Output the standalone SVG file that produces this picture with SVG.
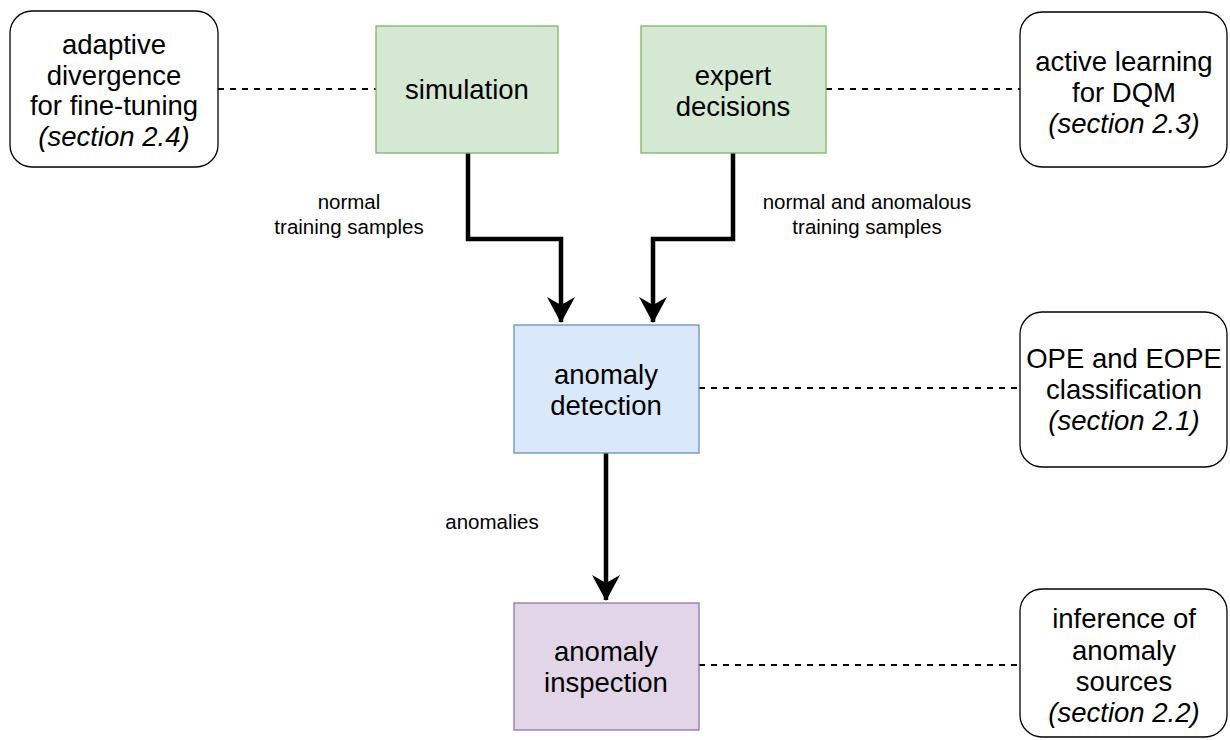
<svg xmlns="http://www.w3.org/2000/svg" width="1230" height="740" viewBox="0 0 1230 740">
  <style>
    text { font-family: "Liberation Sans", Arial, sans-serif; fill: #000; text-anchor: middle; }
    .big { font-size: 27.5px; }
    .small { font-size: 20.5px; }
    .it { font-style: italic; }
    .note { fill: #fff; stroke: #000; stroke-width: 1.3; }
    .green { fill: #d5e8d4; stroke: #82b366; stroke-width: 1.3; }
    .blue { fill: #dae8fc; stroke: #6c8ebf; stroke-width: 1.3; }
    .purple { fill: #e1d5e7; stroke: #9673a6; stroke-width: 1.3; }
    .flow { fill: none; stroke: #000; stroke-width: 4.5; }
    .dash { fill: none; stroke: #000; stroke-width: 2; stroke-dasharray: 6 6; }
  </style>
  <defs>
    <marker id="head" viewBox="0 0 26 28" refX="25" refY="14" markerWidth="26" markerHeight="28" markerUnits="userSpaceOnUse" orient="auto">
      <path d="M0,0 L26,14 L0,28 L8,14 Z" fill="#000"/>
    </marker>
  </defs>

  <!-- connectors -->
  <g id="connectors">
    <line class="dash" x1="218" y1="89" x2="376" y2="89"/>
    <line class="dash" x1="826" y1="89" x2="1020" y2="89"/>
    <line class="dash" x1="699" y1="388" x2="1020" y2="388"/>
    <line class="dash" x1="699" y1="665" x2="1020" y2="665"/>
    <polyline class="flow" points="468,153 468,239 561,239 561,322" marker-end="url(#head)"/>
    <polyline class="flow" points="733,153 733,239 653,239 653,322" marker-end="url(#head)"/>
    <polyline class="flow" points="606,453 606,600" marker-end="url(#head)"/>
    <text class="small" x="349" y="209">normal</text>
    <text class="small" x="349" y="234">training samples</text>
    <text class="small" x="867" y="209">normal and anomalous</text>
    <text class="small" x="867" y="234">training samples</text>
    <text class="small" x="492" y="529">anomalies</text>
  </g>

  <!-- annotation boxes -->
  <g id="fine-tuning">
    <rect class="note" x="10" y="11" width="208" height="156" rx="22"/>
    <text class="big" x="114" y="54">adaptive</text>
    <text class="big" x="114" y="85">divergence</text>
    <text class="big" x="114" y="115">for fine-tuning</text>
    <text class="big it" x="114" y="146">(section 2.4)</text>
  </g>
  <g id="active-learning">
    <rect class="note" x="1020" y="12" width="207" height="155" rx="22"/>
    <text class="big" x="1124" y="71">active learning</text>
    <text class="big" x="1124" y="102">for DQM</text>
    <text class="big it" x="1124" y="133">(section 2.3)</text>
  </g>
  <g id="classification">
    <rect class="note" x="1020" y="312" width="207" height="155" rx="22"/>
    <text class="big" x="1124" y="368">OPE and EOPE</text>
    <text class="big" x="1124" y="399">classification</text>
    <text class="big it" x="1124" y="430">(section 2.1)</text>
  </g>
  <g id="sources">
    <rect class="note" x="1020" y="589" width="207" height="148" rx="22"/>
    <text class="big" x="1124" y="628">inference of</text>
    <text class="big" x="1124" y="660">anomaly</text>
    <text class="big" x="1124" y="691">sources</text>
    <text class="big it" x="1124" y="722">(section 2.2)</text>
  </g>

  <!-- process nodes -->
  <g id="simulation">
    <rect class="green" x="376" y="26" width="182" height="127"/>
    <text class="big" x="467" y="99">simulation</text>
  </g>
  <g id="expert-decisions">
    <rect class="green" x="641" y="26" width="185" height="127"/>
    <text class="big" x="733" y="85">expert</text>
    <text class="big" x="733" y="116">decisions</text>
  </g>
  <g id="anomaly-detection">
    <rect class="blue" x="514" y="325" width="185" height="128"/>
    <text class="big" x="606" y="384">anomaly</text>
    <text class="big" x="606" y="415">detection</text>
  </g>
  <g id="anomaly-inspection">
    <rect class="purple" x="514" y="603" width="185" height="127"/>
    <text class="big" x="606" y="661">anomaly</text>
    <text class="big" x="606" y="692">inspection</text>
  </g>
</svg>
